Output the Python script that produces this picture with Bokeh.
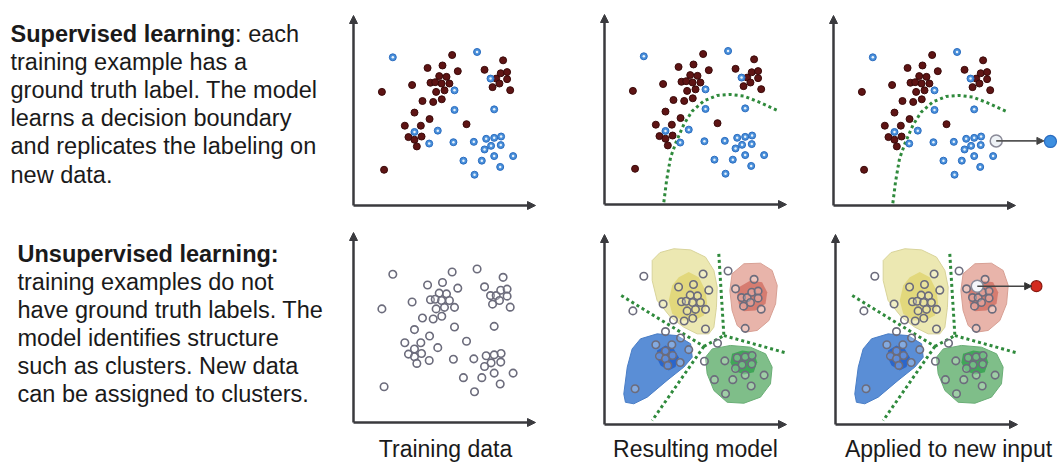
from bokeh.plotting import figure
from bokeh.layouts import row, column
from bokeh.models import Range1d, Label, Arrow, NormalHead
from bokeh.embed import file_html
from bokeh.resources import INLINE

# ---------------- data (panel units: axis origin = 0, axis tips = 100) ----------------
blue_x = [21.6, 67.9, 55.5, 55.5, 77.3, 75.3, 33.5, 46.3, 41.6, 54.9, 66.1, 72.9,
          77.3, 81.1, 75.6, 80.9, 72.0, 77.3, 87.7, 60.4, 70.5, 80.6, 66.5]
blue_y = [78.0, 80.8, 60.6, 50.3, 50.6, 66.8, 38.7, 39.4, 32.6, 33.3, 33.5, 35.1,
          35.6, 36.3, 31.4, 31.8, 29.5, 26.0, 26.0, 23.6, 23.6, 20.3, 16.2]
red_x = [54.2, 82.2, 40.7, 48.9, 57.3, 72.0, 47.1, 51.1, 32.2, 42.3, 44.9, 48.4,
         52.7, 45.4, 50.0, 78.4, 80.9, 84.4, 84.4, 80.2, 76.4, 86.1, 15.6, 37.9,
         43.8, 48.5, 33.5, 41.8, 62.1, 28.2, 37.0, 30.2, 37.4, 33.5, 34.8, 16.8]
red_y = [79.2, 76.4, 72.4, 73.7, 70.7, 71.4, 68.1, 67.7, 63.4, 64.6, 64.9, 64.2,
         64.2, 59.8, 60.6, 66.8, 69.6, 70.2, 66.5, 64.2, 62.3, 60.7, 59.8, 55.0,
         54.5, 55.9, 48.9, 45.5, 42.8, 42.0, 42.0, 36.0, 36.3, 34.6, 31.1, 18.8]

# supervised decision boundary
bnd_x = [32.6, 34.1, 36.3, 39.6, 43.6, 48.2, 54.6, 61.9, 69.2, 76.5, 85.7, 95.8]
bnd_y = [1.2, 12.6, 24.8, 33.5, 42.2, 49.2, 54.5, 57.4, 57.9, 57.1, 53.6, 49.2]

# new inputs: (x, y) of new point, (x, y) of assigned result
sup_new = (89.4, 34.0)
sup_result = (119.2, 33.7)
uns_new = (77.9, 72.8)
uns_result = (110.4, 72.8)

# cluster regions (outer / inner)
yellow_outer_x = [26.2, 30.5, 38.1, 47.3, 55.5, 60.1, 61.9, 61.5, 60.1, 57.3, 50.9, 43.6, 36.3, 28.9, 26.2]
yellow_outer_y = [86.3, 90.5, 92.5, 91.9, 88.1, 81.1, 72.3, 61.7, 51.2, 47.7, 47.7, 51.2, 56.5, 65.3, 75.8]
yellow_inner_x = [40.8, 46.3, 51.8, 55.5, 56.4, 54.6, 49.1, 42.7, 37.2, 35.3, 37.2]
yellow_inner_y = [77.5, 80.2, 77.5, 70.5, 63.5, 57.4, 54.7, 54.7, 58.3, 65.3, 73.2]
red_outer_x = [70.1, 76.6, 85.7, 92.1, 94.9, 94.0, 90.3, 83.9, 77.5, 72.9, 70.1, 68.9]
red_outer_y = [79.3, 84.6, 84.9, 81.1, 73.2, 63.5, 54.7, 49.5, 48.6, 52.1, 60.0, 70.5]
red_inner_x = [73.8, 80.2, 86.6, 89.4, 88.5, 82.9, 76.6, 73.8, 72.9]
red_inner_y = [72.3, 75.8, 74.9, 69.6, 63.5, 60.0, 59.6, 63.5, 67.9]
blue_outer_x = [10.6, 12.5, 15.2, 19.8, 28.9, 39.9, 47.3, 48.2, 43.6, 34.4, 23.5, 16.1, 11.5]
blue_outer_y = [16.1, 30.2, 39.8, 45.1, 47.7, 46.8, 42.5, 35.4, 30.2, 23.2, 14.4, 10.9, 11.7]
blue_inner_x = [28.9, 33.5, 38.1, 40.8, 39.0, 35.3, 30.8, 28.6]
blue_inner_y = [38.9, 41.6, 39.8, 35.4, 30.2, 28.4, 31.1, 35.4]
green_outer_x = [55.5, 59.2, 69.2, 80.2, 88.5, 92.1, 91.2, 85.7, 76.6, 67.4, 60.1, 56.4]
green_outer_y = [35.4, 39.8, 41.6, 40.7, 37.2, 30.2, 21.4, 14.4, 11.2, 11.7, 17.9, 26.7]
green_inner_x = [70.1, 75.7, 82.0, 83.9, 82.0, 76.6, 71.1, 69.2]
green_inner_y = [37.2, 38.9, 38.1, 32.8, 27.5, 26.3, 28.4, 32.8]

# cluster boundaries (segments)
seg_x = [[9.2, 54.6], [62.8, 65.6], [65.6, 100.4], [54.6, 26.2], [54.6, 65.6]]
seg_y = [[67.9, 41.1], [89.8, 46.8], [46.8, 37.5], [41.1, 2.1], [41.1, 46.8]]

sup_text = ["training example has a", "ground truth label. The model",
            "learns a decision boundary", "and replicates the labeling on", "new data."]
uns_text = ["training examples do not", "have ground truth labels. The",
            "model identifies structure", "such as clusters. New data",
            "can be assigned to clusters."]
col_labels = ["Training data", "Resulting model", "Applied to new input"]

# ---------------- layout (page pixels) ----------------
COL_X = [0, 345, 580, 822, 1060]
ROW_Y = [0, 218, 432, 465]
SX, SY = 1.82, 1.9
ORIGINS = {(0, 1): (353, 205), (0, 2): (604, 204), (0, 3): (833, 205),
           (1, 1): (353, 422), (1, 2): (604, 424), (1, 3): (835, 424)}
FONT = "Liberation Sans"
FS = "23.5px"
TXT = "#1a1a1a"
AXC = "#3a3a3e"
GREEN = "#2f8a3c"
TEXT_SHIFT = -9  # compensates the renderer's baseline offset


def base_fig(w, h, xr, yr):
    p = figure(width=w, height=h, x_range=xr, y_range=yr, output_backend="svg",
               toolbar_location=None, min_border=0, outline_line_color=None,
               x_axis_location=None, y_axis_location=None, tools="")
    p.grid.visible = False
    p.background_fill_color = "white"
    p.border_fill_color = "white"
    return p


def text_fig(x0, x1, y0, y1):
    # page-pixel coordinates; data y = -page_y so the range is not inverted
    return base_fig(x1 - x0, y1 - y0, Range1d(x0, x1), Range1d(-y1, -y0))


def put(p, x, y, s, **kw):
    p.add_layout(Label(x=x, y=-(y + TEXT_SHIFT), text=s, text_font=FONT,
                       text_baseline="alphabetic", text_color=TXT, **kw))


def panel(r, c):
    X0, X1 = COL_X[c], COL_X[c + 1]
    Y0, Y1 = ROW_Y[r], ROW_Y[r + 1]
    ox, oy = ORIGINS[(r, c)]
    p = base_fig(X1 - X0, Y1 - Y0,
                 Range1d((X0 - ox) / SX, (X1 - ox) / SX),
                 Range1d((oy - Y1) / SY, (oy - Y0) / SY))
    for xe, ye in [(100, 0), (0, 100)]:
        p.add_layout(Arrow(end=NormalHead(size=8, fill_color=AXC, line_color=AXC),
                           x_start=0, y_start=0, x_end=xe, y_end=ye,
                           line_color=AXC, line_width=2.5))
    return p


def sup_points(p):
    p.scatter(red_x, red_y, size=7, fill_color="#5e1414", line_color="#3a0a0a", line_width=1)
    p.scatter(blue_x, blue_y, size=7, fill_color="#4a90da", line_color="#2a6cc0", line_width=1)
    p.scatter(blue_x, blue_y, size=2.5, fill_color="#e8f2fc", line_color=None)


def gray_points(p):
    p.scatter(blue_x + red_x, blue_y + red_y, size=7.5, fill_color="white", fill_alpha=0.25,
              line_color="#6c6c7c", line_width=1.6)


def clusters(p):
    p.patches([yellow_outer_x, red_outer_x, blue_outer_x, green_outer_x],
              [yellow_outer_y, red_outer_y, blue_outer_y, green_outer_y],
              fill_color=["#ece8b2", "#e8b4aa", "#5a8ed6", "#7fbe89"],
              line_color=["#d8d39a", "#d8a094", "#4a7ec6", "#6aae76"], line_width=1)
    p.patches([yellow_inner_x, red_inner_x, blue_inner_x, green_inner_x],
              [yellow_inner_y, red_inner_y, blue_inner_y, green_inner_y],
              fill_color=["#e2d87c", "#d67c70", "#2a66cc", "#40a658"], line_color=None)
    p.multi_line(seg_x, seg_y, line_color=GREEN, line_width=3, line_dash="3 3")


# row 1
t1 = text_fig(COL_X[0], COL_X[1], ROW_Y[0], ROW_Y[1])
put(t1, 10, 42, "Supervised learning", text_font_size=FS, text_font_style="bold")
put(t1, 10 + 224.6, 42, ": each", text_font_size=FS)
for i, s in enumerate(sup_text):
    put(t1, 10, 42 + 28.2 * (i + 1), s, text_font_size=FS)

p01 = panel(0, 1)
sup_points(p01)

p02 = panel(0, 2)
p02.line(bnd_x, bnd_y, line_color=GREEN, line_width=3, line_dash="3 3")
sup_points(p02)

p03 = panel(0, 3)
p03.line(bnd_x, bnd_y, line_color=GREEN, line_width=3, line_dash="3 3")
sup_points(p03)
p03.add_layout(Arrow(end=NormalHead(size=7, fill_color="#444", line_color="#444"),
                     x_start=sup_new[0], y_start=sup_new[1],
                     x_end=sup_result[0] - 3.6, y_end=sup_new[1],
                     line_color="#555", line_width=1.8))
p03.scatter([sup_new[0]], [sup_new[1]], size=12, fill_color="#eef2f6", line_color="#8a8a98", line_width=1.5)
p03.scatter([sup_result[0]], [sup_result[1]], size=12, fill_color="#3d8fe0", line_color="#2a6cc0", line_width=1.2)

# row 2
t2 = text_fig(COL_X[0], COL_X[1], ROW_Y[1], ROW_Y[2])
put(t2, 17, 262, "Unsupervised learning:", text_font_size=FS, text_font_style="bold")
for i, s in enumerate(uns_text):
    put(t2, 17, 262 + 28 * (i + 1), s, text_font_size=FS)

p11 = panel(1, 1)
gray_points(p11)

p12 = panel(1, 2)
clusters(p12)
gray_points(p12)

p13 = panel(1, 3)
clusters(p13)
gray_points(p13)
p13.add_layout(Arrow(end=NormalHead(size=7, fill_color="#333", line_color="#333"),
                     x_start=uns_new[0], y_start=uns_new[1],
                     x_end=uns_result[0] - 2.6, y_end=uns_new[1],
                     line_color="#444", line_width=1.5))
p13.scatter([uns_new[0]], [uns_new[1]], size=12, fill_color="#f4f6fa", line_color="#8a8a98", line_width=1.5)
p13.scatter([uns_result[0]], [uns_result[1]], size=11, fill_color="#d42a1e", line_color="#8a1a10", line_width=1.2)

# bottom labels
lab = text_fig(COL_X[0], COL_X[4], ROW_Y[2], ROW_Y[3])
for cx, s in zip([445, 695, 948], col_labels):
    put(lab, cx, 457, s, text_font_size="23px", text_align="center")

layout = column(row(t1, p01, p02, p03, spacing=0),
                row(t2, p11, p12, p13, spacing=0),
                lab, spacing=0)

open("out.html", "w").write(file_html(layout, INLINE))
